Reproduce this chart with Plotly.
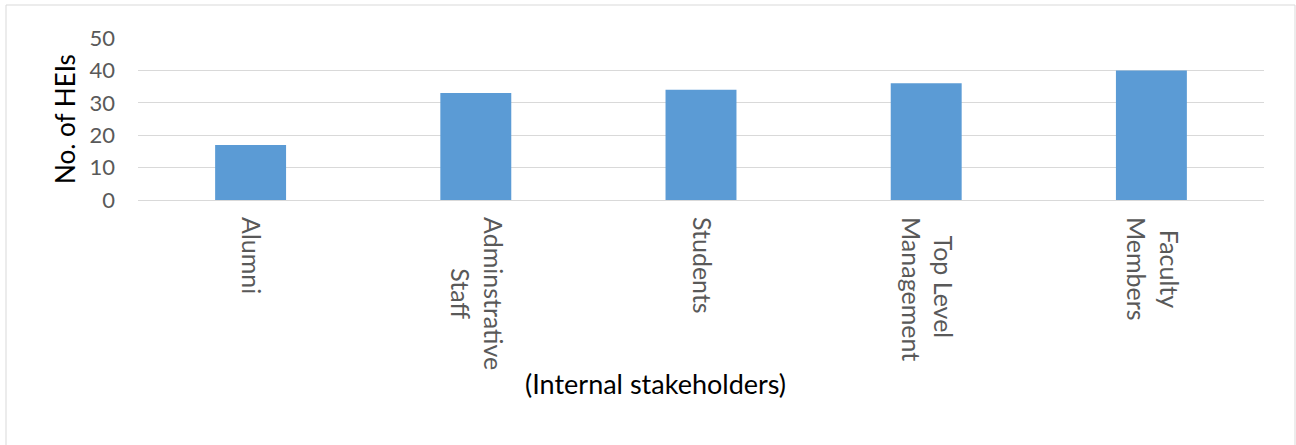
import plotly.graph_objects as go

categories = ["Alumni", "Adminstrative<br>Staff", "Students", "Top Level<br>Management", "Faculty<br>Members"]
values = [17, 33, 34, 36, 40]
y_ticks = [0, 10, 20, 30, 40, 50]

FONT = "Lato"
NB = "\u00a0"

# centre the shorter line of two-line rotated labels (Excel centres them)
pad = {"Adminstrative<br>Staff": (0, 8), "Top Level<br>Management": (3, 0), "Faculty<br>Members": (2, 0)}
ticktext = []
for c in categories:
    if c in pad:
        a, b = c.split("<br>")
        p1, p2 = pad[c]
        ticktext.append(NB * p1 + a + "<br>" + NB * p2 + b)
    else:
        ticktext.append(c)

# plot area in pixels: x 138..1264, y 38..200
PL, PR, PT, PB = 138, 1264, 38, 200
PW, PH = PR - PL, PB - PT

fig = go.Figure()
fig.add_trace(go.Bar(
    x=categories,
    y=values,
    marker=dict(color="#5b9bd5", line=dict(width=0)),
    width=0.315,
))

fig.update_layout(
    width=1296,
    height=445,
    margin=dict(l=PL, r=1296 - PR, t=PT, b=445 - PB),
    paper_bgcolor="white",
    plot_bgcolor="white",
    showlegend=False,
    font=dict(family=FONT, color="#595959", size=22),
    xaxis=dict(
        tickangle=90,
        tickmode="array",
        tickvals=categories,
        ticktext=ticktext,
        showgrid=False,
        showline=False,
        ticks="",
        ticklabelstandoff=16,
        tickfont=dict(family=FONT, size=25, color="#595959"),
    ),
    yaxis=dict(
        range=[0, 50],
        tickvals=y_ticks,
        showgrid=True,
        gridcolor="#d9d9d9",
        gridwidth=1,
        zeroline=True,
        zerolinecolor="#d9d9d9",
        zerolinewidth=1,
        showline=False,
        ticks="",
        ticklabelstandoff=22,
        tickfont=dict(family=FONT, size=22, color="#595959"),
        title=dict(text="No. of HEIs", font=dict(family=FONT, size=26, color="#000000"), standoff=6),
    ),
    annotations=[dict(
        text="(Internal stakeholders)", xref="paper", yref="paper",
        x=(655 - PL) / PW, y=-(383 - PB) / PH, xanchor="center", yanchor="middle",
        showarrow=False, font=dict(family=FONT, size=27, color="#000000"),
    )],
    shapes=[dict(
        type="rect", xref="paper", yref="paper",
        x0=(6 - PL) / PW, x1=(1295 - PL) / PW, y0=-(470 - PB) / PH, y1=1 + (PT - 5) / PH,
        line=dict(color="#d9d9d9", width=1), fillcolor="rgba(0,0,0,0)", layer="below",
    )],
)

fig.write_html("out.html")
